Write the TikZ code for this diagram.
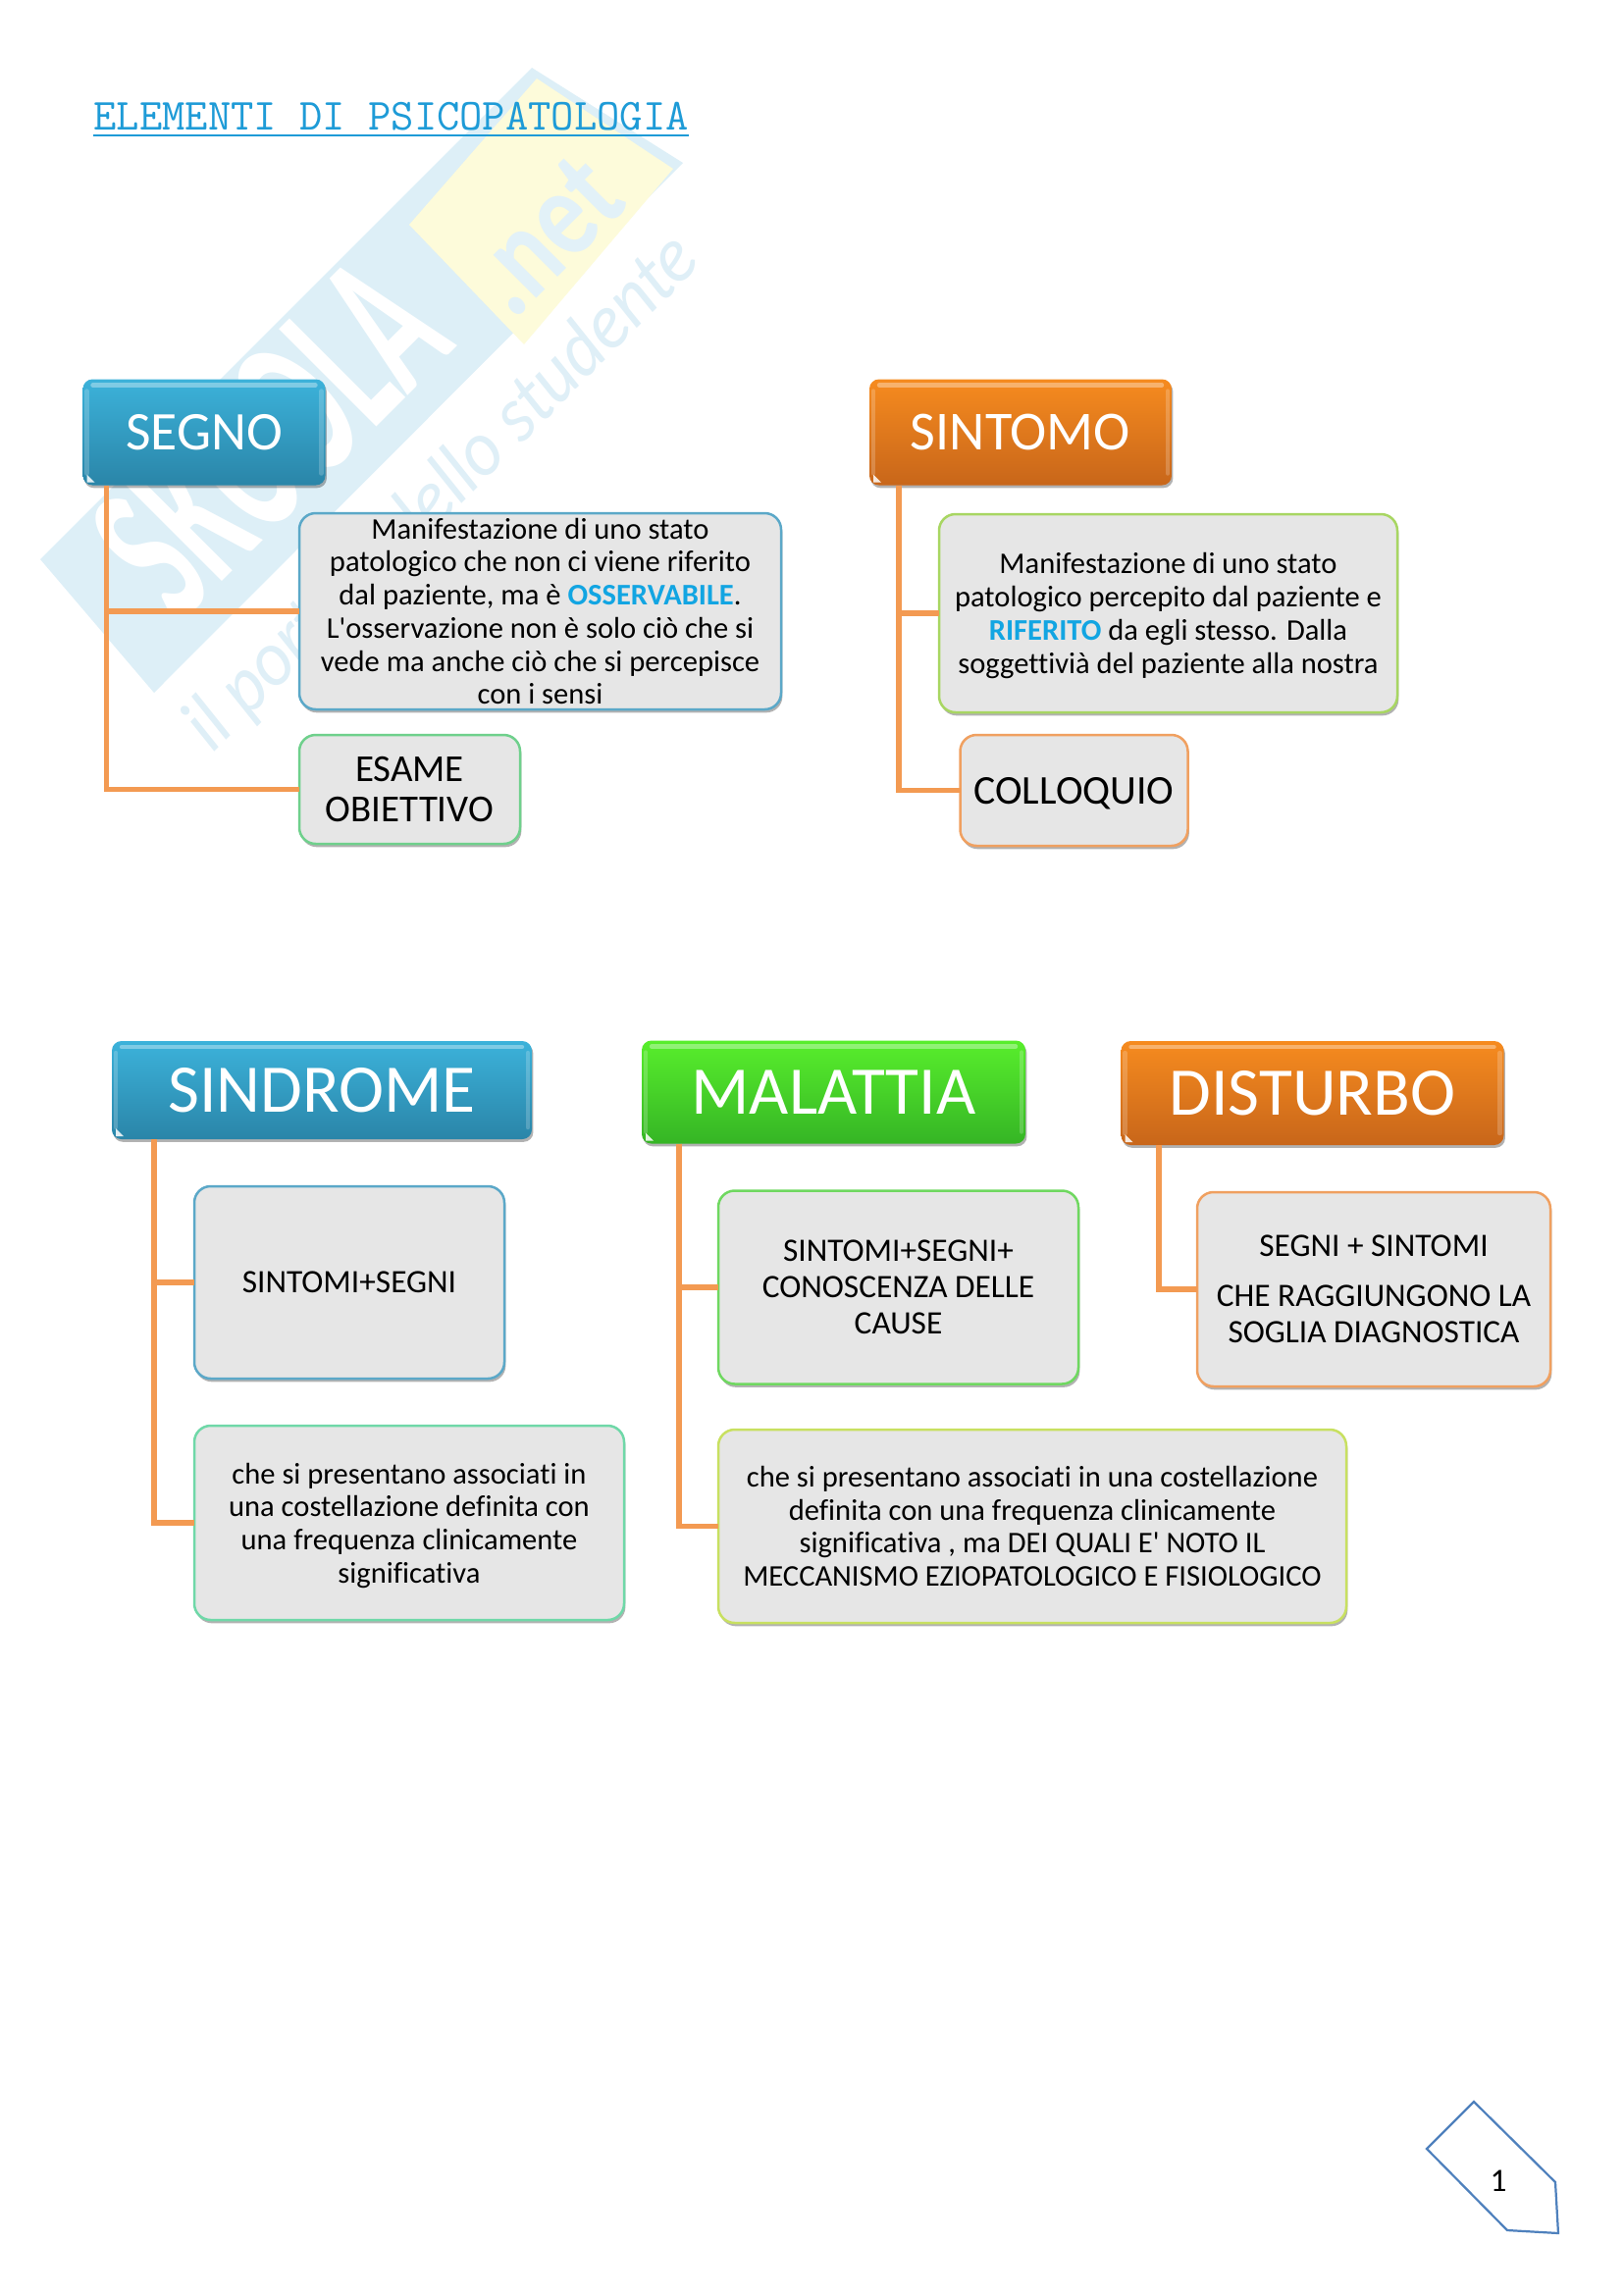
\documentclass[tikz,border=0pt]{standalone}
\usepackage{fontspec}
\setmainfont{Carlito}[Ligatures=NoCommon]
\newfontface\aposfont{Carlito}
\usetikzlibrary{calc,shadows}
\definecolor{wmblue}{HTML}{DDEFF7}
\definecolor{wmyellow}{HTML}{FDFBDA}
\definecolor{wmtext}{HTML}{DFEFF7}
\definecolor{conn}{HTML}{F39A52}
\definecolor{hl}{HTML}{12A5E2}
\definecolor{titlec}{HTML}{1E9BD7}
\definecolor{fillg}{HTML}{E6E6E6}
\definecolor{bluetop}{HTML}{3CB2DA}
\definecolor{bluebot}{HTML}{2A85A8}
\definecolor{orangetop}{HTML}{F68B1F}
\definecolor{orangebot}{HTML}{C8661A}
\definecolor{greentop}{HTML}{58EE2C}
\definecolor{greenbot}{HTML}{35B525}
\definecolor{edgeblue}{HTML}{5BA8C8}
\definecolor{edgegreen}{HTML}{6FD08C}
\definecolor{edgelime}{HTML}{A8D662}
\definecolor{edgeorange}{HTML}{F0A060}
\definecolor{edgeteal}{HTML}{6FD8A8}
\definecolor{edgegrass}{HTML}{6FD860}
\definecolor{edgeyellow}{HTML}{C8E060}
\definecolor{pagec}{HTML}{4F81BD}
\tikzset{
  x=0.36pt,y=-0.36pt,
  wh/.style 2 args={minimum width=#1*0.36pt,minimum height=#2*0.36pt},
  head/.style n args={3}{rectangle,rounded corners=3.5pt,inner sep=0pt,outer sep=0pt,
    top color=#1,bottom color=#2,text=white,
    font=\fontsize{#3}{#3}\selectfont,
    drop shadow={shadow xshift=.5pt,shadow yshift=-1pt,opacity=.3,fill=black}},
  sub/.style={rectangle,rounded corners=6pt,inner sep=0pt,outer sep=0pt,
    fill=fillg,draw=#1,line width=.9pt,text=black,align=center,
    font=\fontsize{11}{12.15}\selectfont,
    drop shadow={shadow xshift=.5pt,shadow yshift=-1.2pt,opacity=.3,fill=black}},
  subbig/.style={font=\fontsize{12}{13.3}\selectfont},
  connector/.style={draw=conn,line width=2.1pt},
  gloss/.style={white,opacity=.35,line width=1.6pt,line cap=round},
  corner/.style={white,opacity=.85},
}
\newcommand\headdeco[1]{%
  \draw[gloss] ($(#1.north west)+(10,6)$) -- ($(#1.north east)+(-10,6)$);
  \draw[gloss,opacity=.2] ($(#1.north east)+(-4,12)$) -- ($(#1.south east)+(-4,-12)$);
  \draw[gloss,opacity=.2] ($(#1.north west)+(4,12)$) -- ($(#1.south west)+(4,-12)$);
  \fill[corner] ($(#1.south west)+(4,-3)$) -- ++(8,0) -- ++(-8,-8) -- cycle;
}
\newcommand\hlt[1]{\textcolor{hl}{\textbf{#1}}}
\newcommand\apos{{\aposfont\symbol{39}}}
\begin{document}
\begin{tikzpicture}
\useasboundingbox (0,0) rectangle (1654,2339);
\fill[white] (0,0) rectangle (1654,2339);
% watermark
\fill[wmblue] (41,570) -- (542,69) -- (696,166) -- (157,706) -- cycle;
\fill[wmyellow] (417,229) -- (547,80) -- (686,172) -- (534,351) -- cycle;
\node[rotate=45,text=white,font=\fontsize{78}{78}\bfseries\selectfont,xscale=.55,inner sep=0pt] (wm1) at (275,445) {SKUOLA};
\node[rotate=45,text=wmblue!85!white,font=\fontsize{46}{46}\bfseries\selectfont,xscale=.8,inner sep=0pt] (wm2) at (555,240) {.net};
\node[rotate=45,text=wmtext,font=\fontsize{29}{29}\itshape\selectfont,xscale=.92,inner sep=0pt] (wm3) at (451,503) {il portale dello studente};
% title
\node[anchor=base west,inner sep=0pt,text=titlec,font=\fontsize{16.3}{16.3}\ttfamily\selectfont] (title) at (95,132) {ELEMENTI DI PSICOPATOLOGIA};
\draw[titlec,line width=.6pt] ($(title.base west)+(0,6)$) -- ($(title.base east)+(0,6)$);
% headings
\node[head={bluetop}{bluebot}{20},wh={247}{108}] (segno) at (208,440.5) {SEGNO};
\node[head={orangetop}{orangebot}{20.2},wh={308}{108}] (sintomo) at (1040,440.5) {SINTOMO};
\node[head={bluetop}{bluebot}{25},wh={428}{100}] (sindrome) at (328,1111) {SINDROME};
\node[head={greentop}{greenbot}{25},wh={391}{105}] (malattia) at (849.5,1113) {MALATTIA};
\node[head={orangetop}{orangebot}{25},wh={390}{106}] (disturbo) at (1337.5,1114) {DISTURBO};
\headdeco{segno}\headdeco{sintomo}\headdeco{sindrome}\headdeco{malattia}\headdeco{disturbo}
% sub boxes
\node[sub=edgeblue,wh={491}{200}] (desca) at (550.5,623) {Manifestazione di uno stato\\patologico che non ci viene riferito\\dal paziente, ma è \hlt{OSSERVABILE}.\\L\apos osservazione non è solo ciò che si\\vede ma anche ciò che si percepisce\\con i sensi};
\node[sub=edgegreen,wh={225}{111},font=\fontsize{14}{15}\selectfont] (esame) at (417.5,804.5) {ESAME\\OBIETTIVO};
\node[sub=edgelime,wh={467}{202},text depth=0pt] (descb) at (1190.5,625) {Manifestazione di uno stato\\patologico percepito dal paziente e\\\hlt{RIFERITO} da egli stesso. Dalla\\soggettivià del paziente alla nostra};
\node[sub=edgeorange,wh={232}{113},font=\fontsize{15}{15}\selectfont,text depth=0pt] (colloquio) at (1094.5,805.5) {COLLOQUIO};
\node[sub=edgeblue,wh={316}{196},subbig] (sinda) at (356,1307) {SINTOMI+SEGNI};
\node[sub=edgeteal,wh={438}{198},text depth=0pt] (sindb) at (417,1552) {che si presentano associati in\\una costellazione definita con\\una frequenza clinicamente\\significativa};
\node[sub=edgegrass,wh={367}{197},subbig] (mala) at (915.5,1312) {SINTOMI+SEGNI+\\CONOSCENZA DELLE\\CAUSE};
\node[sub=edgeyellow,wh={640}{197}] (malb) at (1052,1555.5) {che si presentano associati in una costellazione\\definita con una frequenza clinicamente\\significativa , ma DEI QUALI E\apos{} NOTO IL\\MECCANISMO EZIOPATOLOGICO E FISIOLOGICO};
\node[sub=edgeorange,wh={360}{198},subbig] (dista) at (1400,1314) {SEGNI + SINTOMI\\[5pt]CHE RAGGIUNGONO LA\\SOGLIA DIAGNOSTICA};
% connectors
\coordinate (xa) at (108.5,0);
\coordinate (xb) at (916,0);
\coordinate (xc) at (157,0);
\coordinate (xd) at (692,0);
\coordinate (xe) at (1181,0);
\draw[connector] (xa |- segno.south) |- (desca.west);
\draw[connector] (xa |- segno.south) |- (esame.west);
\draw[connector] (xb |- sintomo.south) |- (descb.west);
\draw[connector] (xb |- sintomo.south) |- (colloquio.west);
\draw[connector] (xc |- sindrome.south) |- (sinda.west);
\draw[connector] (xc |- sindrome.south) |- (sindb.west);
\draw[connector] (xd |- malattia.south) |- (mala.west);
\draw[connector] (xd |- malattia.south) |- (malb.west);
\draw[connector] (xe |- disturbo.south) |- (dista.west);
% page number
\draw[draw=pagec,line width=.8pt] (1502,2142) -- (1585,2224) -- (1588,2276) -- (1536,2273) -- (1454,2190) -- cycle;
\node[inner sep=0pt,font=\fontsize{12}{12}\selectfont] (pagenum) at (1527,2223) {1};
\end{tikzpicture}
\end{document}
